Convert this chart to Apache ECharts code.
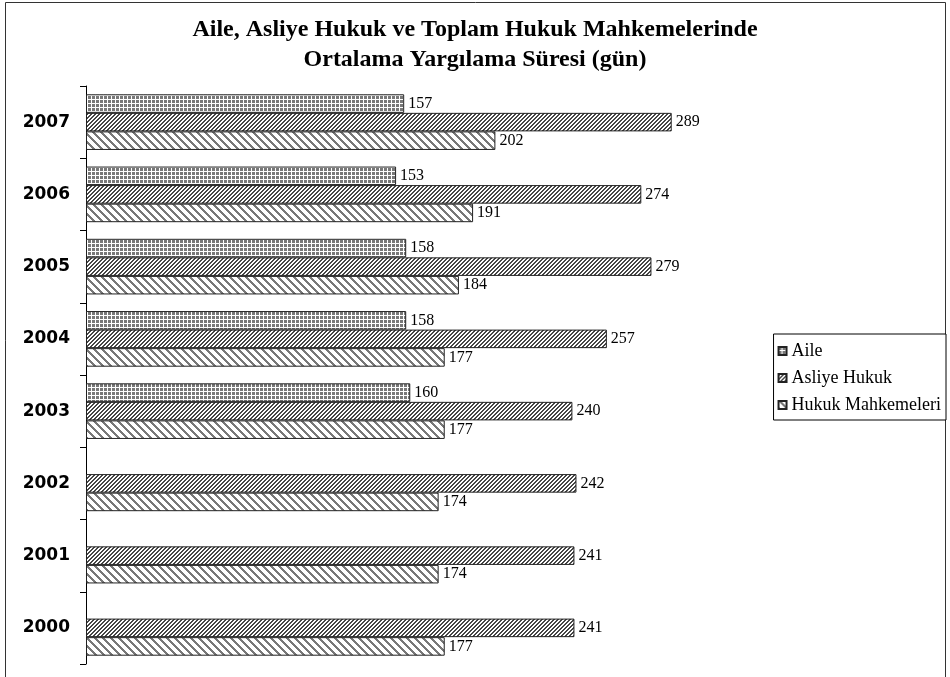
<!DOCTYPE html>
<html>
<head>
<meta charset="utf-8">
<script src="https://cdn.jsdelivr.net/npm/echarts@6/dist/echarts.min.js"></script>
<style>
  html, body { margin: 0; padding: 0; background: #fff; }
  #chart { width: 950px; height: 677px; }
</style>
</head>
<body>
<div id="chart"></div>
<script>
// years, top to bottom
const years = ['2007', '2006', '2005', '2004', '2003', '2002', '2001', '2000'];
const seriesNames = ['Aile', 'Asliye Hukuk', 'Hukuk Mahkemeleri'];
const aile = [157, 153, 158, 158, 160, null, null, null];
const asliyeHukuk = [289, 274, 279, 257, 240, 242, 241, 241];
const hukukMahkemeleri = [202, 191, 184, 177, 177, 174, 174, 177];

// hatch patterns like the old excel fills
function makePattern(kind) {
  const size = kind === 'grid' ? 4 : (kind === 'fwd' ? 4 : 8);
  const c = document.createElement('canvas');
  c.width = size; c.height = size;
  const ctx = c.getContext('2d');
  const img = ctx.createImageData(size, size);
  for (let y = 0; y < size; y++) {
    for (let x = 0; x < size; x++) {
      let v = 255;
      if (kind === 'grid') {
        v = (x === 3 || y === 3) ? 255 : 120;
      } else if (kind === 'fwd') {
        v = ((x + y) % size) < 2 ? 70 : 255;
      } else {
        v = (((x - y) % size + size) % size) < 3 ? 120 : 255;
      }
      const i = (y * size + x) * 4;
      img.data[i] = v; img.data[i + 1] = v; img.data[i + 2] = v; img.data[i + 3] = 255;
    }
  }
  ctx.putImageData(img, 0, 0);
  return { image: c, repeat: 'repeat' };
}

const chart = echarts.init(document.getElementById('chart'));

const labelStyle = {
  show: true,
  position: 'right',
  distance: 4,
  color: '#000',
  fontFamily: 'Liberation Serif',
  fontSize: 16
};

function barSeries(name, data, kind) {
  return {
    name: name,
    type: 'bar',
    data: data,
    barGap: '0%',
    barCategoryGap: '23%',
    itemStyle: { color: makePattern(kind), borderColor: '#222', borderWidth: 1 },
    label: labelStyle
  };
}

const option = {
  animation: false,
  backgroundColor: '#fff',
  title: {
    text: 'Aile, Asliye Hukuk ve Toplam Hukuk Mahkemelerinde\nOrtalama Yargılama Süresi (gün)',
    left: 'center',
    top: 10,
    textStyle: {
      fontFamily: 'Liberation Serif',
      fontWeight: 'bold',
      fontSize: 24,
      lineHeight: 30,
      color: '#000'
    }
  },
  legend: {
    orient: 'vertical',
    right: 4,
    top: 334,
    data: seriesNames,
    icon: 'rect',
    itemWidth: 8,
    itemHeight: 8,
    itemGap: 9,
    padding: [8, 5, 6, 4],
    borderColor: '#000',
    borderWidth: 1,
    backgroundColor: '#fff',
    textStyle: { fontFamily: 'Liberation Serif', fontSize: 18, lineHeight: 18, color: '#000' }
  },
  grid: { left: 86, top: 86, width: 608, height: 578, containLabel: false },
  xAxis: {
    type: 'value',
    min: 0,
    max: 300,
    show: false,
    splitLine: { show: false }
  },
  yAxis: {
    type: 'category',
    data: years,
    inverse: true,
    axisLine: { show: true, lineStyle: { color: '#000', width: 1 } },
    axisTick: { show: true, length: 6, lineStyle: { color: '#000' } },
    axisLabel: {
      margin: 16,
      color: '#000',
      fontFamily: 'DejaVu Sans',
      fontWeight: 'bold',
      fontSize: 17
    }
  },
  graphic: [{
    type: 'rect',
    shape: { x: 5.5, y: 2.5, width: 940, height: 720 },
    style: { fill: 'none', stroke: '#333', lineWidth: 1 },
    silent: true
  }],
  series: [
    barSeries(seriesNames[0], aile, 'grid'),
    barSeries(seriesNames[1], asliyeHukuk, 'fwd'),
    barSeries(seriesNames[2], hukukMahkemeleri, 'back')
  ]
};

chart.setOption(option);
</script>
</body>
</html>
